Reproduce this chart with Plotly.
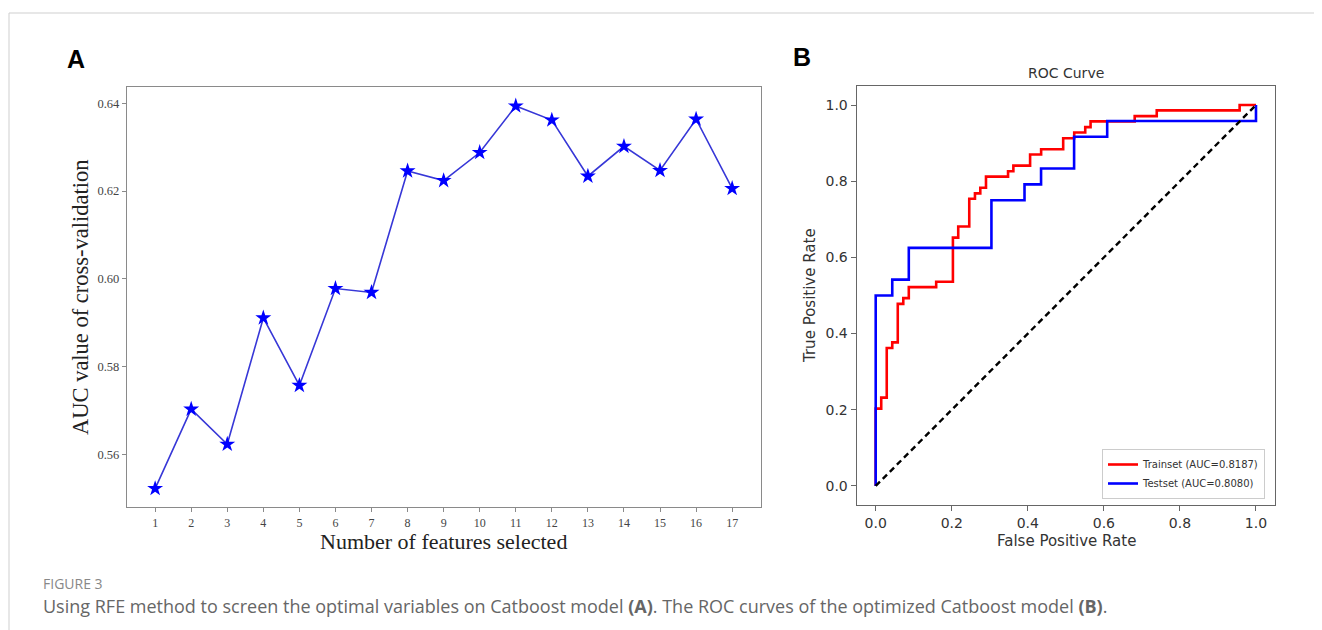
import plotly.graph_objects as go

# ---------------- Data ----------------
n_features = list(range(1, 18))
auc_cv = [0.5522, 0.5703, 0.5623, 0.5911, 0.5757, 0.5978, 0.5969, 0.6246, 0.6224,
          0.6288, 0.6394, 0.6362, 0.6234, 0.6302, 0.6247, 0.6364, 0.6206]
x_ticks_a = list(range(1, 18))
y_ticks_a = [0.56, 0.58, 0.60, 0.62, 0.64]

train_fpr = [0, 0, 0.0145, 0.029, 0.0435, 0.058, 0.0725, 0.087, 0.159, 0.203, 0.217,
             0.246, 0.261, 0.275, 0.290, 0.348, 0.362, 0.406, 0.435, 0.493, 0.522,
             0.551, 0.565, 0.681, 0.739, 0.957, 1.0]
train_tpr = [0, 0.203, 0.232, 0.362, 0.377, 0.478, 0.493, 0.522, 0.536, 0.652, 0.681,
             0.754, 0.768, 0.783, 0.812, 0.826, 0.841, 0.870, 0.884, 0.913, 0.928,
             0.942, 0.957, 0.971, 0.986, 1.0, 1.0]
test_fpr = [0, 0, 0.0435, 0.087, 0.3043, 0.3913, 0.4348, 0.5217, 0.6087, 1.0]
test_tpr = [0, 0.5, 0.5417, 0.625, 0.75, 0.7917, 0.8333, 0.9167, 0.9583, 1.0]
chance = [0, 1]
train_label = "Trainset (AUC=0.8187)"
test_label = "Testset (AUC=0.8080)"
roc_ticks = [0.0, 0.2, 0.4, 0.6, 0.8, 1.0]

# page body has an 8px margin: figure is placed at (8, 8)
OFF = 8
W, H = 1322 - OFF, 630 - OFF
def px(x):
    return (x - OFF) / W
def py(y):
    return 1 - (y - OFF) / H

fig = go.Figure()

# Panel A
fig.add_trace(go.Scatter(
    x=n_features, y=auc_cv, mode="lines+markers",
    line=dict(color="rgb(55,55,215)", width=1.6),
    marker=dict(symbol="star", size=12, color="#0000ff", line=dict(width=0)),
    showlegend=False, xaxis="x", yaxis="y"))

# Panel B
fig.add_trace(go.Scatter(
    x=train_fpr, y=train_tpr, mode="lines", line=dict(color="#ff0000", width=2.6, shape="hv"),
    name=train_label, xaxis="x2", yaxis="y2"))
fig.add_trace(go.Scatter(
    x=test_fpr, y=test_tpr, mode="lines", line=dict(color="#0000ff", width=2.6, shape="hv"),
    name=test_label, xaxis="x2", yaxis="y2"))
fig.add_trace(go.Scatter(
    x=chance, y=chance, mode="lines", line=dict(color="black", width=2.4, dash="6px,4px"),
    showlegend=False, xaxis="x2", yaxis="y2"))

serif = "Liberation Serif, Times New Roman, serif"
sans = "DejaVu Sans, sans-serif"

fig.update_layout(
    width=W, height=H,
    margin=dict(l=0, r=0, t=0, b=0),
    paper_bgcolor="white", plot_bgcolor="white",
    xaxis=dict(domain=[px(127), px(761)], range=[0.22, 17.8],
               tickvals=x_ticks_a, ticktext=[str(v) for v in x_ticks_a],
               showline=True, mirror=True, linecolor="#8a8a8a", linewidth=1.3,
               ticks="outside", ticklen=4, tickcolor="#8a8a8a",
               showgrid=False, zeroline=False,
               tickfont=dict(family=serif, size=12, color="#444")),
    yaxis=dict(domain=[py(507), py(86.7)], range=[0.548, 0.6438],
               tickvals=y_ticks_a, ticktext=["%.2f" % v for v in y_ticks_a],
               showline=True, mirror=True, linecolor="#8a8a8a", linewidth=1.3,
               ticks="outside", ticklen=4, tickcolor="#8a8a8a",
               showgrid=False, zeroline=False,
               tickfont=dict(family=serif, size=12.5, color="#444")),
    xaxis2=dict(domain=[px(856.7), px(1275)], range=[-0.05, 1.05], anchor="y2",
                tickvals=roc_ticks, ticktext=["%.1f" % v for v in roc_ticks],
                showline=True, mirror=True, linecolor="#666", linewidth=1.3,
                ticks="outside", ticklen=5, tickcolor="#666",
                showgrid=False, zeroline=False,
                tickfont=dict(family=sans, size=14, color="#333")),
    yaxis2=dict(domain=[py(505), py(86)], range=[-0.05, 1.05], anchor="x2",
                tickvals=roc_ticks, ticktext=["%.1f" % v for v in roc_ticks],
                showline=True, mirror=True, linecolor="#666", linewidth=1.3,
                ticks="outside", ticklen=5, tickcolor="#666",
                showgrid=False, zeroline=False,
                tickfont=dict(family=sans, size=14, color="#333")),
    legend=dict(x=px(1265), y=py(499), xanchor="right", yanchor="bottom",
                bgcolor="rgba(255,255,255,0.9)", bordercolor="#cccccc", borderwidth=1,
                font=dict(family=sans, size=10, color="#333"),
                itemwidth=30, tracegroupgap=0),
)

annotations = [
    dict(text="<b>A</b>", x=px(65), y=py(59), xanchor="left", yanchor="middle",
         font=dict(family="Liberation Sans, Arial, sans-serif", size=25, color="black")),
    dict(text="<b>B</b>", x=px(791), y=py(57), xanchor="left", yanchor="middle",
         font=dict(family="Liberation Sans, Arial, sans-serif", size=25, color="black")),
    dict(text="AUC value of cross-validation", x=px(80), y=py(297), textangle=-90,
         xanchor="center", yanchor="middle",
         font=dict(family=serif, size=22.5, color="#222")),
    dict(text="Number of features selected", x=px(443), y=py(541),
         xanchor="center", yanchor="middle",
         font=dict(family=serif, size=22, color="#222")),
    dict(text="ROC Curve", x=px(1066), y=py(73), xanchor="center", yanchor="middle",
         font=dict(family=sans, size=14, color="#333")),
    dict(text="True Positive Rate", x=px(810), y=py(296), textangle=-90,
         xanchor="center", yanchor="middle",
         font=dict(family=sans, size=15, color="#333")),
    dict(text="False Positive Rate", x=px(1066), y=py(541), xanchor="center", yanchor="middle",
         font=dict(family=sans, size=15, color="#333")),
    dict(text="FIGURE 3", x=px(41), y=py(583), xanchor="left", yanchor="middle",
         font=dict(family="Open Sans, sans-serif", size=14, color="#888")),
    dict(text="Using RFE method to screen the optimal variables on Catboost model <b>(A)</b>. "
              "The ROC curves of the optimized Catboost model <b>(B)</b>.",
         x=px(41), y=py(606), xanchor="left", yanchor="middle",
         font=dict(family="Open Sans, sans-serif", size=18, color="#666")),
]
for a in annotations:
    a.update(xref="paper", yref="paper", showarrow=False)
fig.update_layout(annotations=annotations)

fig.update_layout(shapes=[
    dict(type="line", xref="paper", yref="paper", x0=px(9), x1=1, y0=py(13), y1=py(13),
         line=dict(color="#cfcfcf", width=1)),
    dict(type="line", xref="paper", yref="paper", x0=px(9), x1=px(9), y0=py(13), y1=0,
         line=dict(color="#cfcfcf", width=1)),
])

fig.write_html("out.html")
